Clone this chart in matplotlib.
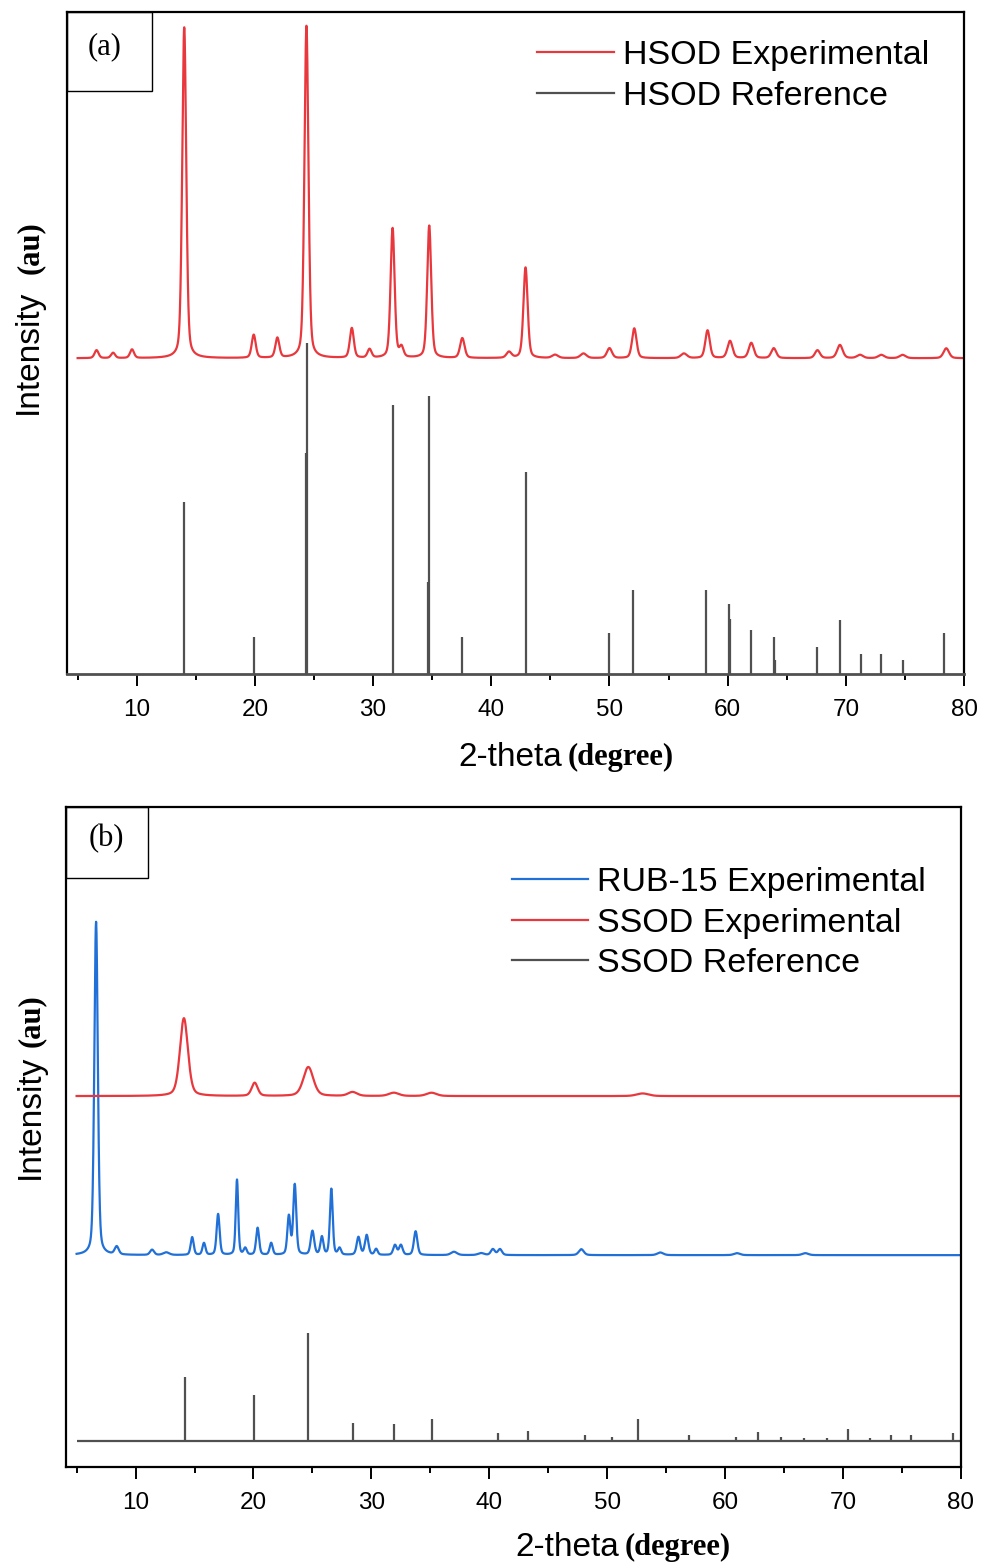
import numpy as np
import matplotlib
matplotlib.use("Agg")
import matplotlib.pyplot as plt
from matplotlib.patches import Rectangle
from matplotlib.lines import Line2D

# ---------------- data ----------------
# Panel (a): HSOD
hsod_exp_base = 47.7
hsod_exp_pos = [6.6, 8.0, 9.6, 14.02, 19.9, 21.9, 24.36, 28.2, 29.7, 31.65, 32.4, 34.75,
                37.55, 41.5, 42.9, 45.4, 47.8, 50.0, 52.1, 56.3, 58.3, 60.2, 62.0, 63.9,
                67.6, 69.5, 71.2, 73.0, 74.8, 78.5]
hsod_exp_h = [1.2, 0.8, 1.3, 50.0, 3.5, 3.0, 50.2, 4.5, 1.3, 19.6, 1.5, 20.0,
              3.0, 0.9, 13.7, 0.5, 0.7, 1.5, 4.5, 0.7, 4.2, 2.6, 2.3, 1.5,
              1.2, 2.0, 0.5, 0.5, 0.5, 1.5]
hsod_exp_w = [0.4, 0.4, 0.4, 0.4, 0.4, 0.4, 0.4, 0.4, 0.4, 0.4, 0.4, 0.4,
              0.45, 0.5, 0.42, 0.6, 0.6, 0.5, 0.45, 0.6, 0.45, 0.5, 0.5, 0.5,
              0.5, 0.55, 0.6, 0.6, 0.6, 0.55]

hsod_ref_pos = [14.03, 19.9, 24.33, 24.44, 31.66, 34.62, 34.74, 37.53, 42.93, 50.0, 52.0,
                58.2, 60.1, 60.2, 62.0, 63.9, 64.0, 67.6, 69.5, 71.3, 73.0, 74.8, 78.3]
hsod_ref_h = [26.0, 5.6, 33.4, 50.0, 40.6, 13.9, 42.0, 5.6, 30.5, 6.2, 12.7,
              12.7, 10.6, 8.3, 6.6, 5.6, 2.1, 4.1, 8.2, 3.0, 3.0, 2.1, 6.2]

# Panel (b): RUB-15 / SSOD
rub_base = 32.1
rub_pos = [6.65, 8.4, 11.4, 12.6, 14.8, 15.8, 17.0, 18.6, 19.3, 20.35, 21.5, 23.0, 23.5,
           25.0, 25.8, 26.6, 27.3, 28.9, 29.6, 30.4, 32.0, 32.5, 33.75, 37.0, 39.3,
           40.3, 40.9, 47.8, 54.5, 61.0, 66.8]
rub_h = [50.5, 1.2, 0.8, 0.4, 2.7, 1.8, 6.2, 11.4, 1.0, 4.1, 1.8, 5.8, 10.6,
         3.6, 2.7, 10.0, 1.0, 2.7, 3.0, 0.9, 1.5, 1.5, 3.6, 0.5, 0.3,
         0.9, 0.9, 0.9, 0.4, 0.3, 0.3]
rub_w = [0.35, 0.4, 0.4, 0.6, 0.3, 0.3, 0.3, 0.25, 0.3, 0.3, 0.3, 0.3, 0.3,
         0.35, 0.3, 0.28, 0.3, 0.35, 0.35, 0.3, 0.35, 0.35, 0.35, 0.6, 0.6,
         0.4, 0.4, 0.5, 0.6, 0.6, 0.6]

ssod_exp_base = 56.2
ssod_exp_pos = [14.1, 20.1, 24.65, 28.4, 31.9, 35.1, 53.0]
ssod_exp_h = [11.8, 2.0, 4.4, 0.6, 0.5, 0.5, 0.4]
ssod_exp_w = [0.8, 0.6, 1.0, 0.9, 1.0, 1.0, 1.2]

ssod_ref_base = 3.9
ssod_ref_pos = [14.15, 20.05, 24.6, 28.4, 31.9, 35.1, 40.7, 43.3, 48.1, 50.4, 52.6, 56.9,
                60.9, 62.8, 64.7, 66.7, 68.6, 70.4, 72.3, 74.1, 75.8, 79.3]
ssod_ref_h = [9.7, 7.0, 16.4, 2.7, 2.6, 3.3, 1.2, 1.5, 0.9, 0.6, 3.3, 0.9,
              0.7, 1.4, 0.6, 0.5, 0.5, 1.8, 0.5, 0.9, 0.9, 1.2]

xticks = [10, 20, 30, 40, 50, 60, 70, 80]

# ---------------- styling ----------------
RED = "#E8383D"
BLUE = "#2070D8"
GREY = "#505050"
SANS = "Liberation Sans"
SERIF = "Liberation Serif"


def pattern(x, pos, h, w, base, eta=0.35):
    y = np.full_like(x, base, dtype=float)
    for p, a, fw in zip(pos, h, w):
        g = np.exp(-4 * np.log(2) * ((x - p) / fw) ** 2)
        l = 1.0 / (1.0 + 4 * ((x - p) / fw) ** 2)
        y += a * (eta * l + (1 - eta) * g)
    return y


fig = plt.figure(figsize=(9.84, 15.64), dpi=100)
W, H = 984, 1564


def axes_px(l, t, r, b):
    return fig.add_axes([l / W, 1 - b / H, (r - l) / W, (b - t) / H])


axA = axes_px(67, 12, 964, 674)
axB = axes_px(66, 807, 961, 1467)

for ax in (axA, axB):
    ax.set_xlim(4.1, 80)
    ax.set_ylim(0, 100)
    ax.set_yticks([])
    ax.set_xticks(xticks)
    ax.set_xticks(np.arange(5, 80, 10), minor=True)
    ax.tick_params(axis="x", which="major", direction="out", length=8.5, width=1.4, pad=9.5,
                   labelsize=17.5, colors="black")
    ax.tick_params(axis="x", which="minor", direction="out", length=4, width=1.4)
    for lab in ax.get_xticklabels():
        lab.set_fontfamily(SANS)
    for s in ax.spines.values():
        s.set_linewidth(1.6)
        s.set_color("black")

x = np.linspace(5.0, 80.0, 6001)

# ---- panel (a)
axA.spines["bottom"].set_color(GREY)
axA.spines["bottom"].set_linewidth(2.0)
axA.vlines(hsod_ref_pos, 0, hsod_ref_h, color=GREY, lw=1.6)
axA.plot(x, pattern(x, hsod_exp_pos, hsod_exp_h, hsod_exp_w, hsod_exp_base), color=RED, lw=1.6)
hA = [Line2D([], [], color=RED, lw=1.6), Line2D([], [], color=GREY, lw=1.6)]
axA.legend(hA, ["HSOD Experimental", "HSOD Reference"], loc="upper left",
           bbox_to_anchor=(0.524, 0.958), frameon=False, borderpad=0, borderaxespad=0,
           handlelength=2.25, handletextpad=0.27, labelspacing=0.31,
           prop={"family": SANS, "size": 24.5})

axA.add_patch(Rectangle((0, 0.881), 0.0948, 0.119, transform=axA.transAxes, fill=False,
                        lw=1.0, ec="black", zorder=5))
axA.text(0.042, 0.947, "(a)", transform=axA.transAxes, ha="center", va="center",
         fontfamily=SERIF, fontsize=22)

# ---- panel (b)
axB.hlines(ssod_ref_base, 5.0, 80.0, color=GREY, lw=1.6)
axB.vlines(ssod_ref_pos, ssod_ref_base, np.array(ssod_ref_h) + ssod_ref_base, color=GREY, lw=1.6)
axB.plot(x, pattern(x, rub_pos, rub_h, rub_w, rub_base), color=BLUE, lw=1.6)
axB.plot(x, pattern(x, ssod_exp_pos, ssod_exp_h, ssod_exp_w, ssod_exp_base), color=RED, lw=1.6)
hB = [Line2D([], [], color=BLUE, lw=1.6), Line2D([], [], color=RED, lw=1.6),
      Line2D([], [], color=GREY, lw=1.6)]
axB.legend(hB, ["RUB-15 Experimental", "SSOD Experimental", "SSOD Reference"], loc="upper left",
           bbox_to_anchor=(0.498, 0.909), frameon=False, borderpad=0, borderaxespad=0,
           handlelength=2.25, handletextpad=0.27, labelspacing=0.28,
           prop={"family": SANS, "size": 24.5})
axB.add_patch(Rectangle((0, 0.892), 0.0916, 0.108, transform=axB.transAxes, fill=False,
                        lw=1.0, ec="black", zorder=5))
axB.text(0.0447, 0.9515, "(b)", transform=axB.transAxes, ha="center", va="center",
         fontfamily=SERIF, fontsize=22)

# ---- axis labels (mixed fonts)
def fx(px):
    return px / W


def fy(py):
    return 1 - py / H


fig.text(fx(28), fy(352), "Intensity", rotation=90, ha="center", va="center",
         fontfamily=SANS, fontsize=24)
fig.text(fx(30), fy(248), "(au)", rotation=90, ha="center", va="center",
         fontfamily=SERIF, fontweight="bold", fontsize=22)
fig.text(fx(458), fy(757), "2-theta", ha="left", va="center", fontfamily=SANS, fontsize=24)
fig.text(fx(568), fy(757), "(degree)", ha="left", va="center", fontfamily=SERIF,
         fontweight="bold", fontsize=22)

fig.text(fx(30), fy(1117), "Intensity", rotation=90, ha="center", va="center",
         fontfamily=SANS, fontsize=24)
fig.text(fx(31), fy(1021), "(au)", rotation=90, ha="center", va="center",
         fontfamily=SERIF, fontweight="bold", fontsize=22)
fig.text(fx(515), fy(1547), "2-theta", ha="left", va="center", fontfamily=SANS, fontsize=24)
fig.text(fx(625), fy(1547), "(degree)", ha="left", va="center", fontfamily=SERIF,
         fontweight="bold", fontsize=22)

fig.savefig("out.png", dpi=100)
